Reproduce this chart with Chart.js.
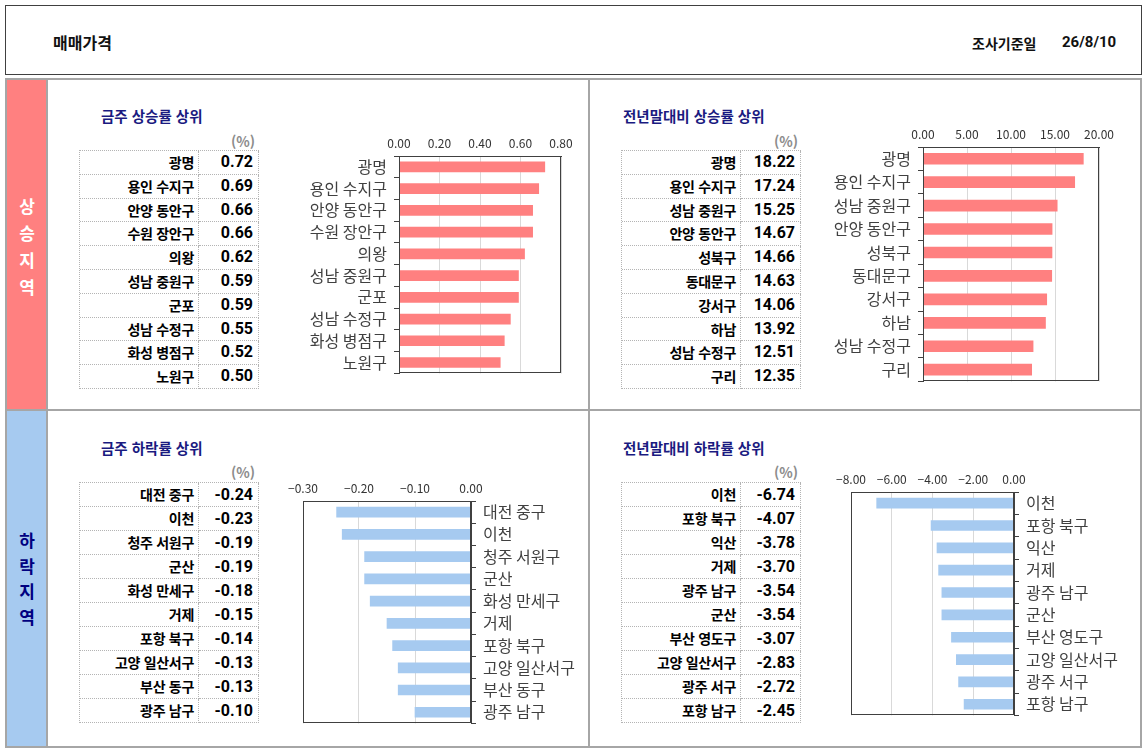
<!DOCTYPE html>
<html lang="ko">
<head>
<meta charset="utf-8">
<script src="https://cdn.jsdelivr.net/npm/chart.js@4.4.1/dist/chart.umd.min.js"></script>
<style>
html,body{margin:0;padding:0;background:#fff;}
body{width:1147px;height:753px;position:relative;overflow:hidden;font-family:'Noto Sans CJK KR',sans-serif;}
.abs{position:absolute;}
.hdr{left:5px;top:5px;width:1137px;height:70px;border:1px solid #404040;box-sizing:border-box;}
.htxt{font-weight:bold;color:#111;line-height:20px;}
.frame{left:5px;top:78px;width:1137px;height:670px;border:2px solid #a6a6a6;box-sizing:border-box;}
.line{background:#a6a6a6;}
.strip{font-weight:bold;font-size:17px;text-align:center;}
.ttl{font-weight:bold;font-size:14.5px;color:#1a1a80;line-height:20px;white-space:nowrap;}
.pct{font-size:14px;color:#8c8c8c;line-height:16px;font-weight:bold;}
.tbl{border-top:1px dotted #b4b4b4;border-left:1px dotted #b4b4b4;box-sizing:border-box;}
.row{display:flex;box-sizing:border-box;}
.cn,.cv{box-sizing:border-box;border-right:1px dotted #b4b4b4;border-bottom:1px dotted #b4b4b4;text-align:right;white-space:nowrap;overflow:hidden;font-weight:bold;color:#000;}
.cn{font-size:14px;padding-right:4px;letter-spacing:-0.3px;}
.cv{font-size:16px;padding-right:5px;font-family:Roboto,'Noto Sans CJK KR',sans-serif;}
canvas{position:absolute;}
</style>
</head>
<body>
<div class="abs hdr"></div>
<div class="abs htxt" style="left:53px;top:32px;font-size:16px;">매매가격</div>
<div class="abs htxt" style="left:972px;top:33px;font-size:14px;">조사기준일</div>
<div class="abs htxt" style="left:1062px;top:32px;font-size:15px;font-family:Roboto,'Noto Sans CJK KR',sans-serif;">26/8/10</div>

<div class="abs" style="left:7px;top:80px;width:40px;height:329px;background:#ff8080;"></div>
<div class="abs" style="left:7px;top:411px;width:40px;height:335px;background:#a6caf0;"></div>
<div class="abs frame"></div>
<div class="abs line" style="left:46px;top:78px;width:2px;height:670px;"></div>
<div class="abs line" style="left:588px;top:78px;width:2px;height:670px;"></div>
<div class="abs line" style="left:5px;top:409px;width:1137px;height:2px;"></div>

<div class="abs strip" style="left:7px;top:192px;width:40px;line-height:27px;color:#fff;">상<br>승<br>지<br>역</div>
<div class="abs strip" style="left:7px;top:527px;width:40px;line-height:25.5px;color:#000080;">하<br>락<br>지<br>역</div>

<div class="abs ttl" style="left:101px;top:106px;">금주 상승률 상위</div>
<div class="abs ttl" style="left:623px;top:106px;">전년말대비 상승률 상위</div>
<div class="abs ttl" style="left:101px;top:438px;">금주 하락률 상위</div>
<div class="abs ttl" style="left:623px;top:438px;">전년말대비 하락률 상위</div>
<div class="abs pct" style="left:231px;top:133px;">(%)</div>
<div class="abs pct" style="left:774px;top:133px;">(%)</div>
<div class="abs pct" style="left:231px;top:464px;">(%)</div>
<div class="abs pct" style="left:774px;top:464px;">(%)</div>

<div id="t1" class="abs tbl" style="left:79px;top:150px;width:180px;"></div>
<div id="t2" class="abs tbl" style="left:621px;top:150px;width:180px;"></div>
<div id="t3" class="abs tbl" style="left:79px;top:482px;width:180px;"></div>
<div id="t4" class="abs tbl" style="left:621px;top:482px;width:180px;"></div>

<canvas id="c1" width="310" height="265" style="left:270px;top:125px;width:310px;height:265px;"></canvas>
<canvas id="c2" width="325" height="280" style="left:810px;top:118px;width:325px;height:280px;"></canvas>
<canvas id="c3" width="308" height="270" style="left:280px;top:470px;width:308px;height:270px;"></canvas>
<canvas id="c4" width="312" height="270" style="left:825px;top:462px;width:312px;height:270px;"></canvas>

<script>
// ---- data ----
const weekUpNames = ['광명','용인 수지구','안양 동안구','수원 장안구','의왕','성남 중원구','군포','성남 수정구','화성 병점구','노원구'];
const weekUpValues = [0.72,0.69,0.66,0.66,0.62,0.59,0.59,0.55,0.52,0.50];

const ytdUpNames = ['광명','용인 수지구','성남 중원구','안양 동안구','성북구','동대문구','강서구','하남','성남 수정구','구리'];
const ytdUpValues = [18.22,17.24,15.25,14.67,14.66,14.63,14.06,13.92,12.51,12.35];

const weekDownNames = ['대전 중구','이천','청주 서원구','군산','화성 만세구','거제','포항 북구','고양 일산서구','부산 동구','광주 남구'];
const weekDownValues = [-0.24,-0.23,-0.19,-0.19,-0.18,-0.15,-0.14,-0.13,-0.13,-0.10];

const ytdDownNames = ['이천','포항 북구','익산','거제','광주 남구','군산','부산 영도구','고양 일산서구','광주 서구','포항 남구'];
const ytdDownValues = [-6.74,-4.07,-3.78,-3.70,-3.54,-3.54,-3.07,-2.83,-2.72,-2.45];

// axis ranges [min, max, step]
const weekUpAxis = [0, 0.8, 0.2];
const ytdUpAxis = [0, 20, 5];
const weekDownAxis = [-0.3, 0, 0.1];
const ytdDownAxis = [-8, 0, 2];

const FONT = "'Noto Sans CJK KR', sans-serif";

function buildTable(id, names, values, rowH) {
  const el = document.getElementById(id);
  names.forEach((n, i) => {
    const r = document.createElement('div');
    r.className = 'row';
    r.style.height = rowH + 'px';
    const a = document.createElement('div');
    a.className = 'cn';
    a.style.width = '119px';
    a.style.lineHeight = (rowH - 1) + 'px';
    a.textContent = n;
    const b = document.createElement('div');
    b.className = 'cv';
    b.style.width = '60px';
    b.style.lineHeight = (rowH - 1) + 'px';
    b.textContent = values[i].toFixed(2);
    r.appendChild(a); r.appendChild(b);
    el.appendChild(r);
  });
}
buildTable('t1', weekUpNames, weekUpValues, 23.8);
buildTable('t2', ytdUpNames, ytdUpValues, 23.8);
buildTable('t3', weekDownNames, weekDownValues, 24);
buildTable('t4', ytdDownNames, ytdDownValues, 24);

function fmt(v) {
  const s = Math.abs(v).toFixed(2);
  return (v < -1e-9) ? '\u2212' + s : s;
}

const framePlugin = {
  id: 'frameBox',
  afterDraw(c) {
    const a = c.chartArea, x = c.ctx;
    x.save();
    x.strokeStyle = '#404040';
    x.lineWidth = 1;
    x.strokeRect(Math.round(a.left) + 0.5, Math.round(a.top) + 0.5, Math.round(a.right - a.left) - 1, Math.round(a.bottom - a.top) - 1);
    x.restore();
  }
};

function makeChart(id, names, values, axis, o) {
  return new Chart(document.getElementById(id), {
    type: 'bar',
    data: { labels: names, datasets: [{ data: values, backgroundColor: o.color, barThickness: o.bar, borderWidth: 0 }] },
    options: {
      indexAxis: 'y',
      responsive: false,
      animation: false,
      devicePixelRatio: 1,
      layout: { padding: o.pad },
      plugins: { legend: { display: false }, tooltip: { enabled: false } },
      scales: {
        x: {
          position: 'top', min: axis[0], max: axis[1],
          ticks: { stepSize: axis[2], autoSkip: false, maxRotation: 0, padding: 5, color: '#333', font: { size: 12, family: FONT }, callback: v => fmt(v) },
          grid: { color: '#d9d9d9', drawTicks: false },
          border: { display: true, color: '#404040' },
          afterFit: s => { s.height = o.xh; }
        },
        y: {
          position: o.ypos,
          ticks: { autoSkip: false, padding: 7, color: '#404040', font: { size: 16, family: FONT } },
          grid: { drawOnChartArea: false, drawTicks: true, tickLength: 5, color: '#404040', offset: true },
          border: { display: true, color: '#404040' },
          afterFit: s => { s.width = o.yw; }
        }
      }
    },
    plugins: [framePlugin]
  });
}

makeChart('c1', weekUpNames, weekUpValues, weekUpAxis, { color: '#ff8080', bar: 10, pad: { left: 0, right: 19, top: 0, bottom: 12 }, xh: 31, yw: 129, ypos: 'left' });
makeChart('c2', ytdUpNames, ytdUpValues, ytdUpAxis, { color: '#ff8080', bar: 11, pad: { left: 0, right: 36, top: 0, bottom: 13 }, xh: 29, yw: 113, ypos: 'left' });
makeChart('c3', weekDownNames, weekDownValues, weekDownAxis, { color: '#a6caf0', bar: 10, pad: { left: 23, right: 0, top: 0, bottom: 14 }, xh: 31, yw: 117, ypos: 'right' });
makeChart('c4', ytdDownNames, ytdDownValues, ytdDownAxis, { color: '#a6caf0', bar: 10, pad: { left: 26, right: 0, top: 0, bottom: 14 }, xh: 30, yw: 123, ypos: 'right' });
</script>
</body>
</html>
